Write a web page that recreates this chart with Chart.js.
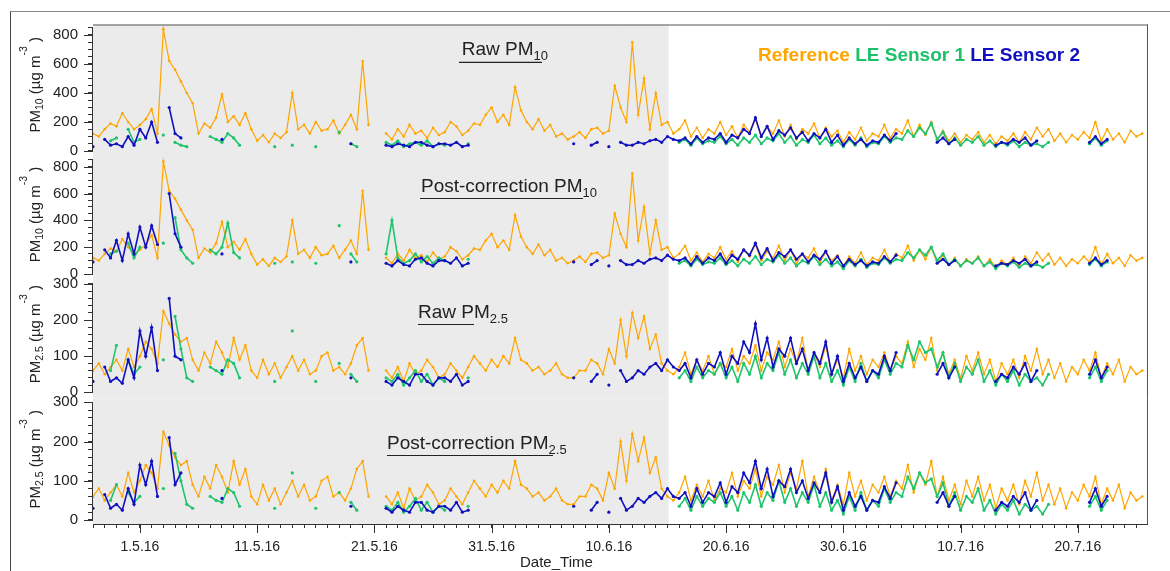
<!DOCTYPE html>
<html><head><meta charset="utf-8">
<script src="https://cdn.jsdelivr.net/npm/chart.js@4/dist/chart.umd.min.js"></script>
<style>
html,body{margin:0;padding:0;background:#fff;}
#wrap{position:relative;width:1170px;height:571px;overflow:hidden;background:#fff;}
#frame{position:absolute;left:10px;top:11px;width:1200px;height:600px;border-left:1px solid #444;border-top:1px solid #888;}
canvas{position:absolute;left:0;}
</style></head>
<body><div id="wrap"><div id="frame"></div>
<canvas id="c1"></canvas><canvas id="c2"></canvas><canvas id="c3"></canvas><canvas id="c4"></canvas>
</div>
<script>
const _ = null;
// time grid: days counted from 1.5.16, 12-hour steps starting 27.4.16
const START_DAY = -4;
const STEP_DAY = 0.5;
const X_MIN = -4, X_MAX = 85.9;
const GRAY_END = 45.1;
const tickDays = [0, 10, 20, 30, 40, 50, 60, 70, 80];
const tickLabels = ['1.5.16', '11.5.16', '21.5.16', '31.5.16', '10.6.16', '20.6.16', '30.6.16', '10.7.16', '20.7.16'];

const refPM10 = [
120,100,150,190,170,260,200,150,180,220,290,120,840,620,560,480,400,330,120,190,
160,230,390,200,240,180,260,150,70,110,60,120,90,130,400,150,180,120,200,140,
150,210,120,180,250,150,620,180,_,_,120,80,150,100,180,120,140,90,160,110,
130,200,170,110,140,190,180,250,300,200,250,180,440,280,200,150,220,140,180,100,
120,80,100,130,90,150,160,120,140,450,300,200,750,250,500,150,400,180,200,120,
150,210,100,160,90,150,120,200,110,170,90,180,130,220,100,170,120,210,100,180,
80,150,120,190,90,160,100,140,60,130,80,160,70,120,100,180,90,150,120,210,
100,180,110,200,80,140,70,120,60,110,80,130,60,110,50,100,70,120,60,130,
80,160,100,150,70,120,60,110,80,130,90,200,70,150,80,120,60,140,100,120];

const s1RawPM10 = [
_,_,_,70,90,_,150,60,80,_,_,_,110,_,60,40,30,_,_,_,
100,80,60,120,90,40,_,_,_,_,_,30,_,_,40,_,_,_,30,_,
_,_,130,_,50,30,_,_,_,_,60,40,70,30,50,60,40,70,30,50,
40,_,_,_,50,_,_,_,_,_,_,_,_,_,_,_,_,_,_,_,
_,_,_,_,_,_,_,_,_,_,_,_,_,_,_,_,_,_,_,_,
60,80,40,90,50,70,60,100,50,80,40,90,60,110,50,90,70,120,60,100,
40,80,60,110,50,90,40,70,30,80,40,90,30,60,50,100,60,90,80,140,
100,160,120,190,80,130,50,90,40,80,60,100,40,70,30,60,40,70,30,60,
40,50,30,60,_,_,_,_,_,_,50,90,40,70,_,_,_,_,_,_];

const s2RawPM10 = [
30,_,80,40,50,30,100,40,150,90,200,60,_,300,120,90,_,_,_,_,
_,_,80,_,_,_,_,_,_,_,_,_,_,_,_,_,_,_,_,_,
_,_,_,_,50,_,_,_,_,_,40,30,50,40,30,60,60,40,30,50,
50,40,60,30,40,_,_,_,_,_,_,_,_,_,_,_,_,_,_,_,
_,_,50,_,_,40,60,_,30,_,60,40,40,60,50,70,80,60,100,80,
70,90,50,100,60,90,80,120,60,110,90,150,120,230,100,170,80,140,110,160,
90,130,70,120,90,150,60,110,40,90,50,80,40,70,60,110,70,120,_,_,
_,_,_,_,60,90,50,80,_,_,_,_,_,_,40,60,50,80,60,90,
40,70,_,_,_,_,_,_,_,_,60,100,50,80,_,_,_,_,_,_];

const s1CorPM10 = [
_,_,_,150,170,_,230,120,200,_,_,_,230,_,420,180,120,80,_,_,
180,150,200,380,160,120,_,_,_,_,_,80,_,_,90,_,_,_,80,_,
_,_,360,_,150,90,_,_,_,_,150,400,120,80,100,150,90,130,80,120,
100,_,_,_,110,_,_,_,_,_,_,_,_,_,_,_,_,_,_,_,
_,_,_,_,_,_,_,_,_,_,_,_,_,_,_,_,_,_,_,_,
80,100,60,110,70,90,80,120,70,100,60,110,80,130,70,110,90,140,80,120,
60,100,80,130,70,110,60,90,40,100,60,110,50,80,70,120,80,110,100,160,
120,180,140,200,100,150,70,110,60,100,80,120,60,90,40,80,60,90,50,80,
60,70,50,80,_,_,_,_,_,_,70,110,60,90,_,_,_,_,_,_];

const s2CorPM10 = [
90,_,180,120,250,100,300,150,350,200,360,220,_,600,300,200,_,_,_,_,
_,_,150,_,_,_,_,_,_,_,_,_,_,_,_,_,_,_,_,_,
_,_,_,_,90,_,_,_,_,_,80,60,100,70,60,110,120,80,60,100,
100,80,120,60,80,_,_,_,_,_,_,_,_,_,_,_,_,_,_,_,
_,_,90,_,_,70,100,_,60,_,100,70,70,100,80,110,120,100,140,110,
100,120,70,130,80,120,100,150,80,140,110,180,140,230,120,190,100,160,130,180,
110,150,90,140,110,170,80,130,60,110,70,100,60,90,80,130,90,140,_,_,
_,_,_,_,80,110,70,100,_,_,_,_,_,_,60,80,70,100,80,110,
60,90,_,_,_,_,_,_,_,_,80,120,70,100,_,_,_,_,_,_];

const refPM25 = [
60,80,50,70,90,60,120,70,100,140,120,80,225,190,160,140,150,90,60,110,
80,140,110,70,150,90,130,60,40,90,50,80,40,70,100,60,90,50,60,100,
110,60,70,50,80,130,150,60,_,_,60,40,70,30,80,50,60,90,70,40,
50,80,60,40,70,100,80,60,90,70,100,80,150,90,80,60,70,50,60,80,
50,40,40,60,60,90,80,50,120,80,200,100,220,150,210,120,160,80,60,50,
70,110,50,90,60,100,50,80,70,120,60,100,80,130,60,110,90,140,70,120,
80,150,60,110,70,130,50,90,40,120,60,100,50,90,70,110,60,100,80,140,
70,120,90,150,60,110,50,90,40,100,60,110,50,90,30,80,50,90,40,100,
60,120,50,90,40,80,30,70,50,90,60,110,40,80,50,90,30,70,50,60];

const s1RawPM25 = [
_,_,_,60,130,_,90,50,70,_,_,_,90,_,210,120,40,30,_,_,
70,60,50,90,80,40,_,_,_,_,_,30,_,_,170,_,_,_,30,_,
_,_,80,_,50,30,_,_,_,_,40,30,50,20,40,60,30,50,20,40,
30,_,_,_,40,_,_,_,_,_,_,_,_,_,_,_,_,_,_,_,
_,_,_,_,_,_,_,_,_,_,_,_,_,_,_,_,_,_,_,_,
40,60,30,70,40,60,50,80,40,70,30,80,50,100,40,80,60,110,50,90,
40,80,50,100,40,80,30,60,20,70,30,80,30,60,40,90,50,80,70,130,
90,140,110,120,70,110,40,80,30,70,50,90,30,60,20,50,30,60,20,50,
30,40,20,50,_,_,_,_,_,_,40,70,30,60,_,_,_,_,_,_];

const s2RawPM25 = [
30,_,70,30,40,25,90,40,170,100,180,60,_,260,100,90,_,_,_,_,
_,_,60,_,_,_,_,_,_,_,_,_,_,_,_,_,_,_,_,_,
_,_,_,_,40,_,_,_,_,_,30,20,40,30,20,50,50,30,20,40,
40,30,50,20,30,_,_,_,_,_,_,_,_,_,_,_,_,_,_,_,
_,_,40,_,_,30,50,_,20,_,60,30,40,60,50,70,80,60,90,70,
60,80,40,90,50,80,70,110,50,100,80,140,110,190,90,150,70,120,100,150,
80,120,60,110,80,140,50,100,30,80,40,70,30,60,50,100,60,110,_,_,
_,_,_,_,50,80,40,70,_,_,_,_,_,_,30,50,40,70,50,80,
30,60,_,_,_,_,_,_,_,_,50,90,40,70,_,_,_,_,_,_];

const s1CorPM25 = [
_,_,_,50,90,_,70,45,60,_,_,_,80,_,170,100,40,30,_,_,
60,50,45,80,70,35,_,_,_,_,_,30,_,_,120,_,_,_,30,_,
_,_,70,_,45,25,_,_,_,_,35,25,45,20,35,55,25,45,20,35,
25,_,_,_,35,_,_,_,_,_,_,_,_,_,_,_,_,_,_,_,
_,_,_,_,_,_,_,_,_,_,_,_,_,_,_,_,_,_,_,_,
35,55,25,60,35,55,45,70,35,60,25,70,45,90,35,70,50,100,45,80,
35,70,45,90,35,70,25,50,15,60,25,70,25,50,35,80,45,70,60,110,
80,120,95,105,60,95,35,70,25,60,45,80,25,50,15,40,25,50,15,40,
25,35,15,40,_,_,_,_,_,_,35,60,25,50,_,_,_,_,_,_];

const s2CorPM25 = [
30,_,65,30,40,25,80,40,140,90,150,60,_,210,90,120,_,_,_,_,
_,_,55,_,_,_,_,_,_,_,_,_,_,_,_,_,_,_,_,_,
_,_,_,_,35,_,_,_,_,_,30,20,35,25,20,45,45,25,20,35,
35,25,45,20,25,_,_,_,_,_,_,_,_,_,_,_,_,_,_,_,
_,_,35,_,_,25,45,_,20,_,55,25,35,55,45,60,70,55,80,60,
55,70,35,80,45,70,60,95,45,85,70,120,95,150,80,130,60,100,85,130,
70,100,55,95,70,120,45,85,25,70,35,60,25,50,45,85,55,95,_,_,
_,_,_,_,45,70,35,60,_,_,_,_,_,_,25,45,35,60,45,70,
25,50,_,_,_,_,_,_,_,_,45,80,35,60,_,_,_,_,_,_];

const ORANGE = '#FFA500', GREEN = '#1FC46C', BLUE = '#1010BE';
const FONT = '"Liberation Sans", Arial, sans-serif';
const AXIS = '#333';

const pm10Label = [{t:'PM'},{t:'10',sub:1},{t:' (µg m'},{t:'-3',sup:1},{t:' )'}];
const pm25Label = [{t:'PM'},{t:'2.5',sub:1},{t:' (µg m'},{t:'-3',sup:1},{t:' )'}];

const panels = [
  {id:'c1', top:0, height:175, areaTop:24.5, areaBottom:155, min:-27.6, max:872, minor:50, major:200, axisTop:850,
   ref:refPM10, s1:s1RawPM10, s2:s2RawPM10, ylab:pm10Label,
   title:[{t:'Raw PM'},{t:'10',sub:1}], tx:461.7, ty:55, ul:[459,542,62.3], legend:true},
  {id:'c2', top:135, height:160, areaTop:155, areaBottom:276, min:-14.9, max:887, minor:50, major:200, axisTop:850,
   ref:refPM10, s1:s1CorPM10, s2:s2CorPM10, ylab:pm10Label,
   title:[{t:'Post-correction PM'},{t:'10',sub:1}], tx:421, ty:192, ul:[420,583,198.5]},
  {id:'c3', top:256, height:162, areaTop:276, areaBottom:398.5, min:-17.2, max:322, minor:20, major:100, axisTop:300,
   ref:refPM25, s1:s1RawPM25, s2:s2RawPM25, ylab:pm25Label,
   title:[{t:'Raw PM'},{t:'2.5',sub:1}], tx:418, ty:318, ul:[418,474,324.5]},
  {id:'c4', top:378, height:193, areaTop:398.5, areaBottom:524, min:-10.2, max:309.7, minor:20, major:100, axisTop:300,
   ref:refPM25, s1:s1CorPM25, s2:s2CorPM25, ylab:pm25Label,
   title:[{t:'Post-correction PM'},{t:'2.5',sub:1}], tx:387, ty:449, ul:[387,553,455.5], bottom:true}
];

function toXY(arr) {
  return arr.map((v, i) => ({x: START_DAY + i * STEP_DAY, y: v}));
}

function rich(ctx, parts, x, y, opt) {
  const size = opt.size, sub = opt.subSize, bold = opt.bold ? 'bold ' : '';
  ctx.save();
  ctx.translate(x, y);
  if (opt.rot) ctx.rotate(-Math.PI / 2);
  let w = 0;
  parts.forEach(p => { ctx.font = bold + ((p.sub || p.sup) ? sub : size) + 'px ' + FONT; w += ctx.measureText(p.t).width; });
  let cx = opt.center ? -w / 2 : 0;
  ctx.textBaseline = 'alphabetic';
  ctx.textAlign = 'left';
  parts.forEach(p => {
    ctx.font = bold + ((p.sub || p.sup) ? sub : size) + 'px ' + FONT;
    ctx.fillStyle = p.color || opt.color || '#222';
    const dy = p.sub ? opt.subDy : (p.sup ? opt.supDy : 0);
    ctx.fillText(p.t, cx, dy);
    cx += ctx.measureText(p.t).width;
  });
  ctx.restore();
  return w;
}

const decor = {
  id: 'decor',
  beforeDraw(chart, args, p) {
    const {ctx, chartArea: a, scales: {x}} = chart;
    ctx.save();
    ctx.fillStyle = '#ebebeb';
    const xe = x.getPixelForValue(GRAY_END);
    ctx.fillRect(a.left, a.top, xe - a.left, a.bottom - a.top);
    ctx.restore();
  },
  afterDraw(chart, args, p) {
    const {ctx, chartArea: a, scales: {x, y}} = chart;
    ctx.save();
    ctx.strokeStyle = AXIS; ctx.lineWidth = 1;
    const y0 = y.getPixelForValue(0), yt = y.getPixelForValue(p.axisTop);
    ctx.beginPath(); ctx.moveTo(a.left - 0.5, y0); ctx.lineTo(a.left - 0.5, yt); ctx.stroke();
    for (let v = 0; v <= p.axisTop; v += p.major) {
      const py = Math.round(y.getPixelForValue(v)) + 0.5;
      ctx.beginPath(); ctx.moveTo(a.left - 9, py); ctx.lineTo(a.left, py); ctx.stroke();
    }
    ctx.strokeStyle = '#555';
    ctx.beginPath(); ctx.moveTo(a.right + 0.5, a.top); ctx.lineTo(a.right + 0.5, a.bottom); ctx.stroke();
    if (p.legend) {
      ctx.beginPath(); ctx.moveTo(a.left, a.top + 0.5); ctx.lineTo(a.right + 1, a.top + 0.5); ctx.stroke();
    }
    const off = chart.canvas.offsetTop;
    if (p.bottom) {
      ctx.strokeStyle = AXIS;
      ctx.beginPath(); ctx.moveTo(a.left, a.bottom + 0.5); ctx.lineTo(a.right + 1, a.bottom + 0.5); ctx.stroke();
      tickDays.forEach(d => {
        const px = Math.round(x.getPixelForValue(d)) + 0.5;
        ctx.beginPath(); ctx.moveTo(px, a.bottom); ctx.lineTo(px, a.bottom + 9); ctx.stroke();
      });
      ctx.fillStyle = '#222'; ctx.font = '15px ' + FONT; ctx.textBaseline = 'alphabetic';
      ctx.fillText('Date_Time', 520, 567 - off);
    }
    rich(ctx, p.title, p.tx, p.ty - off, {size: 19, subSize: 13, subDy: 5, color: '#222'});
    ctx.strokeStyle = '#222'; ctx.lineWidth = 1.2;
    ctx.beginPath(); ctx.moveTo(p.ul[0], p.ul[2] - off); ctx.lineTo(p.ul[1], p.ul[2] - off); ctx.stroke();
    const yc = (a.top + y0) / 2 + (p.legend ? -3 : 0);
    rich(ctx, p.ylab, 40, yc, {rot: true, center: true, size: 15, subSize: 10.5, subDy: 3, supDy: -13, color: '#222'});
    if (p.legend) {
      rich(ctx, [{t:'Reference ', color: ORANGE}, {t:'LE Sensor 1 ', color: '#1EC06A'}, {t:'LE Sensor 2', color: BLUE}],
        758, 60.7 - off, {size: 19, subSize: 19, bold: true});
    }
    ctx.restore();
  }
};

function build(p) {
  const cv = document.getElementById(p.id);
  cv.style.top = p.top + 'px';
  cv.width = 1170; cv.height = p.height;
  cv.style.width = '1170px'; cv.style.height = p.height + 'px';
  const ds = (label, data, color, order, extra) => Object.assign({
    label, data: toXY(data), borderColor: color, backgroundColor: color,
    pointBackgroundColor: color, pointBorderWidth: 0, spanGaps: false, order, tension: 0
  }, extra);
  new Chart(cv, {
    type: 'line',
    data: {datasets: [
      ds('Reference', p.ref, ORANGE, 3, {borderWidth: 1.2, pointRadius: 1.3}),
      ds('LE Sensor 1', p.s1, GREEN, 2, {borderWidth: 1.6, pointRadius: 1.6}),
      ds('LE Sensor 2', p.s2, BLUE, 1, {borderWidth: 1.6, pointRadius: 1.6})
    ]},
    options: {
      responsive: false, animation: false, devicePixelRatio: 1,
      layout: {padding: {left: 0, right: 23, top: p.areaTop - p.top,
        bottom: p.bottom ? 0 : (p.top + p.height - p.areaBottom)}},
      plugins: {legend: {display: false}, tooltip: {enabled: false}, decor: p},
      scales: {
        x: {
          type: 'linear', min: X_MIN, max: X_MAX, display: !!p.bottom,
          afterBuildTicks: s => {
            const t = [];
            for (let d = Math.ceil(X_MIN); d <= X_MAX; d++) t.push({value: d});
            s.ticks = t;
          },
          ticks: {
            autoSkip: false, maxRotation: 0, minRotation: 0, padding: 11, color: '#222',
            font: {family: FONT, size: 14},
            callback: v => { const k = tickDays.indexOf(v); return k >= 0 ? tickLabels[k] : ''; }
          },
          grid: {drawOnChartArea: false, drawTicks: true, tickLength: 4, color: AXIS},
          border: {display: false},
          afterFit: s => { s.height = p.bottom ? 47 : 0; }
        },
        y: {
          type: 'linear', min: p.min, max: p.max,
          afterBuildTicks: s => {
            const t = [];
            for (let v = 0; v <= p.axisTop; v += p.minor) t.push({value: v});
            s.ticks = t;
          },
          ticks: {
            autoSkip: false, padding: 10, color: '#222', font: {family: FONT, size: 15},
            callback: v => (v % p.major === 0 ? String(v) : '')
          },
          grid: {drawOnChartArea: false, drawTicks: true, tickLength: 5, color: AXIS},
          border: {display: false},
          afterFit: s => { s.width = 93; }
        }
      }
    },
    plugins: [decor]
  });
}
panels.forEach(build);
</script>
</body></html>
